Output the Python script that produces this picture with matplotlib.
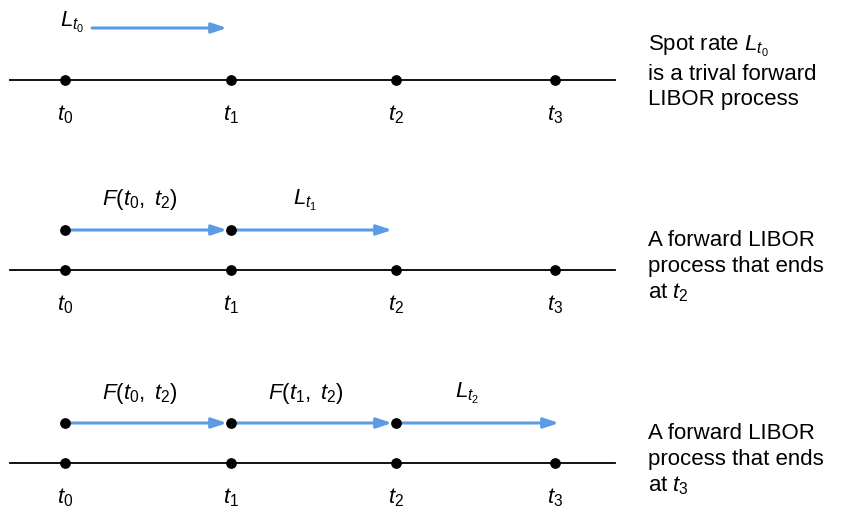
import matplotlib
matplotlib.use("Agg")
import matplotlib.pyplot as plt

plt.rcParams['font.family'] = ['Liberation Sans', 'DejaVu Sans']
plt.rcParams['mathtext.fontset'] = 'custom'
plt.rcParams['mathtext.rm'] = 'Liberation Sans'
plt.rcParams['mathtext.it'] = 'Liberation Sans:italic'

# time points and their labels
tick_x = [65, 231, 396, 555]
tick_labels = [r'$t_0$', r'$t_1$', r'$t_2$', r'$t_3$']

# each row: timeline y, arrow y, arrows (start idx, end idx), arrow labels, caption
line_y = [80, 270, 463]
arrow_y = [28, 230, 423]
caption_y = [72, 267, 460]
row_arrows = [[(0, 1)], [(0, 1), (1, 2)], [(0, 1), (1, 2), (2, 3)]]
row_labels = [[r'$L_{t_0}$'], [r'$F(t_0,\ t_2)$', r'$L_{t_1}$'],
              [r'$F(t_0,\ t_2)$', r'$F(t_1,\ t_2)$', r'$L_{t_2}$']]
captions = ["Spot rate $L_{t_0}$\nis a trival forward\nLIBOR process",
            "A forward LIBOR\nprocess that ends\nat $t_2$",
            "A forward LIBOR\nprocess that ends\nat $t_3$"]

blue = '#5b9be3'
fig = plt.figure(figsize=(8.43, 5.13), dpi=100)
ax = fig.add_axes([0, 0, 1, 1])
ax.set_xlim(0, 843)
ax.set_ylim(513, 0)
ax.axis('off')

for r in range(3):
    y = line_y[r]
    ax.plot([10, 615], [y, y], color='black', lw=1.3, zorder=1)
    ax.scatter(tick_x, [y] * 4, s=45, color='black', zorder=3)
    for x, lab in zip(tick_x, tick_labels):
        ax.text(x, y + 35, lab, ha='center', va='center', fontsize=16)
    ay = arrow_y[r]
    for k, (a, b) in enumerate(row_arrows[r]):
        x0, x1 = tick_x[a], tick_x[b]
        if r == 0:
            x0 = 92
        end = x1 + 4 if b == 3 else x1 - 4
        ax.annotate('', xy=(end, ay), xytext=(x0, ay),
                    arrowprops=dict(arrowstyle='-|>,head_length=0.9,head_width=0.3',
                                    color=blue, lw=2.2, shrinkA=0, shrinkB=0))
        if r > 0:
            ax.scatter([x0], [ay], s=45, color='black', zorder=3)
        lx = 72 if r == 0 else (x0 + x1) / 2 - 8
        ax.text(lx, ay - 30 if r > 0 else ay - 6, row_labels[r][k],
                ha='center', va='center', fontsize=16)
    ax.text(648, caption_y[r], captions[r],
            ha='left', va='center', fontsize=16, linespacing=1.3)

fig.savefig('out.png', dpi=100)
